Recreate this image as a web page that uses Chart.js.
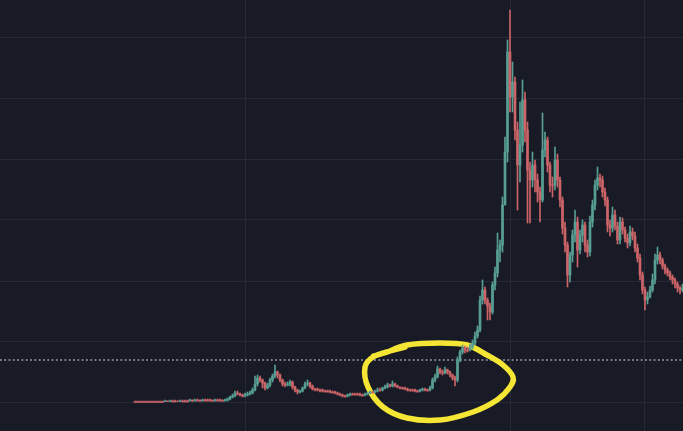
<html>
  <head>
    <title>Price chart</title>
    <script src="https://cdn.jsdelivr.net/npm/chart.js@4.4.1/dist/chart.umd.min.js"></script>
    <style>
      body {
        margin: 0;
        background-color: #181b26;
        overflow: hidden;
      }
      #wrap {
        width: 683px;
        height: 431px;
        position: relative;
      }
    </style>
  </head>

  <body>
    <div id="wrap"><canvas id="price-chart"></canvas></div>
  </body>

  <script>
    // candle closes, highs and lows (one candle per period)
    var closes = [
      0,0,0,0,0,0,0,0,0,0,
      0,0,1,0,1,1,1,0,1,1,
      1,1,2,1,2,2,1,2,2,2,
      2,1,2,2,2,1,2,3,
      5,6,9,8,7,6,7,8,9,12,
      18,24,22,19,14,17,22,26,30,27,
      22,18,17,18,20,15,12,10,11,14,
      18,19,16,13,13,12,12,11,11,11,
      10,10,9,8,7,6,6,7,8,8,
      8,8,7,7,8,9,10,10,11,12,
      12,14,15,17,16,18,16,15,14,14,
      13,12,12,12,11,11,12,13,12,12,
      14,22,25,33,30,29,32,30,27,24,
      22,42,50,54,52,52,55,59,66,72,
      102,112,102,96,90,117,129,152,157,197,
      250,350,305,320,272,237,257,302,272,232,
      222,237,222,210,202,252,262,237,217,217,
      242,222,202,174,157,127,147,167,180,152,
      167,177,157,150,180,197,217,224,222,210,
      202,177,174,187,176,162,180,172,164,159,
      170,166,154,144,127,112,102,105,112,122,
      142,147,142,136,132,129,125,122,118,114,112,114
    ];
    var highs = [
      1,1,1,1,1,1,1,1,1,1,
      1,1,2,1,2,2,2,1,2,2,
      2,2,3,2,3,3,2,3,3,3,
      3,2,3,3,3,2,3,4,
      6,8,11,11,9,8,9,10,11,14,
      26,27,26,23,20,19,24,28,37,31,
      28,23,20,20,22,21,16,13,12,15,
      20,22,20,17,14,14,13,13,12,12,
      12,11,11,10,9,8,7,8,9,9,
      9,9,9,8,9,10,11,11,12,14,
      14,15,17,19,18,21,19,17,15,15,
      15,14,13,13,13,12,13,14,14,13,
      16,24,28,36,34,32,35,33,31,28,
      26,45,52,57,56,55,58,62,70,76,
      106,122,115,104,99,120,135,169,162,205,
      265,362,392,340,325,280,300,322,310,280,
      240,250,242,228,215,289,270,265,240,225,
      255,248,225,205,180,160,150,172,192,185,
      172,182,180,162,186,202,222,235,228,226,
      214,205,182,195,192,180,185,184,175,168,
      176,174,170,158,148,130,115,110,116,128,
      148,155,150,144,138,134,131,127,124,120,116,118
    ];
    var lows = [
      0,0,0,0,0,0,0,0,0,0,
      0,0,0,0,0,0,0,0,0,0,
      0,0,1,0,1,1,0,1,1,1,
      1,0,1,1,1,0,1,1,
      2,4,5,7,6,5,5,6,7,8,
      11,16,20,14,12,13,15,20,24,24,
      20,16,15,16,16,13,10,8,9,10,
      13,16,14,12,11,11,10,10,10,10,
      9,9,8,7,6,5,5,5,6,7,
      7,7,6,6,6,7,8,9,9,10,
      11,11,13,14,15,15,15,14,13,13,
      12,11,11,11,10,10,10,11,11,11,
      11,13,20,24,28,27,28,28,25,22,
      16,20,40,48,49,50,51,53,57,64,
      70,98,98,82,82,88,112,125,140,150,
      197,240,290,290,262,192,220,250,260,179,
      179,215,210,200,180,200,245,230,210,205,
      212,215,195,168,150,115,120,140,160,135,
      148,160,150,145,146,175,192,212,215,205,
      196,170,166,170,172,158,158,168,160,154,
      156,162,150,140,122,108,92,98,104,110,
      118,138,138,133,128,126,122,118,114,110,108,110
    ];

    var priceLevels = [0, 61, 121, 182, 243, 303, 364]; // horizontal grid
    var timeMarks = [44, 150, 203.6];                    // vertical grid (candle index)
    var lastPrice = 42;                                  // dotted price line

    // hand drawn circle, in (candle index, price) units
    var circlePts = [
      [95.5,46],[101,50],[108.8,57],[122,59],[132.8,57],[140.8,47],[147.2,37],[151.2,25],
      [150,15],[144.8,2],[135.2,-10],[122,-18],[108.8,-16],[99.2,-5],[93.2,15],
      [92,35],[95.2,45],[102,51],[108,55]
    ];

    var upColor = '#589e93';
    var downColor = '#cc6468';

    var opens = closes.map(function (c, i) { return i ? closes[i - 1] : c; });
    var colors = closes.map(function (c, i) { return c > opens[i] ? upColor : downColor; });

    var wickData = [];
    var bodyData = [];
    for (i = 0; i < closes.length; i++) {
      wickData.push({ x: i, y: [lows[i], highs[i]] });
      bodyData.push({ x: i, y: [opens[i], closes[i]] });
    }

    var circlePlugin = {
      id: 'circle',
      afterDatasetDraw: function (chart, args) {
        if (args.index !== 0) return;
        var sx = chart.scales.x, sy = chart.scales.y;
        var p = circlePts.map(function (q) { return [sx.getPixelForValue(q[0]), sy.getPixelForValue(q[1])]; });
        var ctx = chart.ctx;
        ctx.save();
        ctx.strokeStyle = '#f5e635';
        ctx.lineWidth = 5.5;
        ctx.lineCap = 'round';
        ctx.lineJoin = 'round';
        ctx.beginPath();
        ctx.moveTo(p[0][0], p[0][1]);
        // catmull-rom through the points
        for (var k = 0; k < p.length - 1; k++) {
          var p0 = p[k - 1] || p[k], p1 = p[k], p2 = p[k + 1], p3 = p[k + 2] || p2;
          ctx.bezierCurveTo(
            p1[0] + (p2[0] - p0[0]) / 6, p1[1] + (p2[1] - p0[1]) / 6,
            p2[0] - (p3[0] - p1[0]) / 6, p2[1] - (p3[1] - p1[1]) / 6,
            p2[0], p2[1]);
        }
        ctx.stroke();
        ctx.restore();
      }
    };

    new Chart(document.getElementById('price-chart'), {
      type: 'bar',
      data: {
        datasets: [
          {
            type: 'line',
            data: [{ x: -54, y: lastPrice }, { x: 219.2, y: lastPrice }],
            borderColor: '#9da3b2',
            borderWidth: 1.6,
            borderDash: [1.8, 2.5],
            pointRadius: 0,
            order: 3
          },
          {
            data: wickData,
            backgroundColor: colors,
            barThickness: 1,
            grouped: false,
            order: 2
          },
          {
            data: bodyData,
            backgroundColor: colors,
            barThickness: 2,
            minBarLength: 1,
            grouped: false,
            order: 1
          }
        ]
      },
      options: {
        responsive: true,
        maintainAspectRatio: false,
        animation: false,
        layout: { padding: 0 },
        plugins: { legend: { display: false }, tooltip: { enabled: false } },
        scales: {
          x: {
            type: 'linear',
            min: -54,
            max: 219.2,
            offset: false,
            ticks: { display: false },
            grid: { color: '#262a36', drawTicks: false, offset: false },
            border: { display: false },
            afterBuildTicks: function (s) { s.ticks = timeMarks.map(function (v) { return { value: v }; }); }
          },
          y: {
            min: -29,
            max: 402,
            ticks: { display: false },
            grid: { color: '#262a36', drawTicks: false },
            border: { display: false },
            afterBuildTicks: function (s) { s.ticks = priceLevels.map(function (v) { return { value: v }; }); }
          }
        }
      },
      plugins: [circlePlugin]
    });
  </script>
</html>
